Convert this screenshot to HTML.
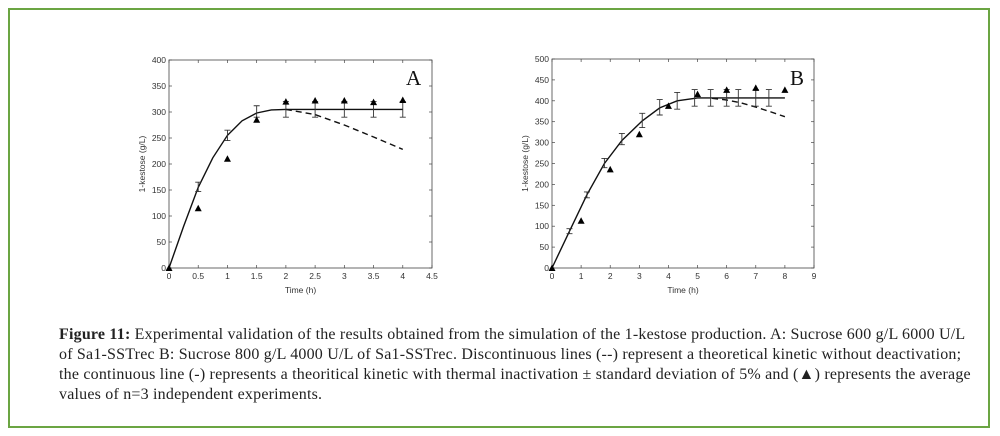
<!DOCTYPE html>
<html><head><meta charset="utf-8"><style>
body{margin:0;width:1000px;height:436px;background:#fff;overflow:hidden;position:relative}
#frame{position:absolute;left:8px;top:8px;width:982px;height:420px;border:2px solid #6ba543;box-sizing:border-box}
#cap{position:absolute;left:59px;top:325px;font-family:"Liberation Serif",serif;font-size:16px;line-height:20px;color:#222;white-space:nowrap;letter-spacing:0.2px}
svg text{font-family:"Liberation Sans",sans-serif;font-size:8.5px;fill:#333}
</style></head><body>
<div id="frame"></div>
<svg id="s" width="1000" height="436" style="position:absolute;left:0;top:0"></svg>
<div id="cap"><b>Figure 11:</b> Experimental validation of the results obtained from the simulation of the 1-kestose production. A: Sucrose 600 g/L 6000 U/L<br>of Sa1-SSTrec B: Sucrose 800 g/L 4000 U/L of Sa1-SSTrec. Discontinuous lines (--) represent a theoretical kinetic without deactivation;<br>the continuous line (-) represents a theoritical kinetic with thermal inactivation ± standard deviation of 5% and (▲) represents the average<br>values of n=3 independent experiments.</div>
<script>
var h='';
function chart(o){
 var X=function(t){return o.x0+(o.x1-o.x0)*t/o.xm},Y=function(v){return o.y0-(o.y0-o.y1)*v/o.ym};
 h+='<rect x="'+o.x0+'" y="'+o.y1+'" width="'+(o.x1-o.x0)+'" height="'+(o.y0-o.y1)+'" fill="none" stroke="#444" stroke-width="0.8"/>';
 for(var t=0;t<=o.xm+1e-9;t+=o.xs){var x=X(t);h+='<line x1="'+x+'" x2="'+x+'" y1="'+o.y0+'" y2="'+(o.y0-3)+'" stroke="#444" stroke-width=".7"/><line x1="'+x+'" x2="'+x+'" y1="'+o.y1+'" y2="'+(o.y1+3)+'" stroke="#444" stroke-width=".7"/><text x="'+x+'" y="'+(o.y0+11)+'" text-anchor="middle">'+(Math.round(t*10)/10)+'</text>';}
 for(var v=0;v<=o.ym;v+=50){var y=Y(v);h+='<line x1="'+o.x0+'" x2="'+(o.x0+3)+'" y1="'+y+'" y2="'+y+'" stroke="#444" stroke-width=".7"/><line x1="'+o.x1+'" x2="'+(o.x1-3)+'" y1="'+y+'" y2="'+y+'" stroke="#444" stroke-width=".7"/><text x="'+(o.x0-3)+'" y="'+(y+3)+'" text-anchor="end">'+v+'</text>';}
 h+='<text x="'+((o.x0+o.x1)/2)+'" y="'+(o.y0+25)+'" text-anchor="middle">Time (h)</text>';
 var cy=(o.y0+o.y1)/2;h+='<text transform="translate('+(o.x0-24)+','+cy+') rotate(-90)" text-anchor="middle">1-kestose (g/L)</text>';
 h+='<text x="'+o.lx+'" y="'+o.ly+'" style="font-family:Liberation Serif,serif;font-size:21px;fill:#111">'+o.lab+'</text>';
 var p=function(a){return a.map(function(q){return X(q[0]).toFixed(1)+','+Y(q[1]).toFixed(1)}).join(' ')};
 h+='<polyline points="'+p(o.solid)+'" fill="none" stroke="#111" stroke-width="1.4"/>';
 h+='<polyline points="'+p(o.dash)+'" fill="none" stroke="#111" stroke-width="1.4" stroke-dasharray="6,4"/>';
 o.err.forEach(function(e){var x=X(e[0]),a=Y(e[1]),b=Y(e[2]);h+='<path d="M'+x+' '+a+'V'+b+'M'+(x-3)+' '+a+'h6M'+(x-3)+' '+b+'h6" stroke="#333" stroke-width=".9" fill="none"/>';});
 o.tri.forEach(function(e){var x=X(e[0]),y=Y(e[1]);h+='<polygon points="'+(x-3.5)+','+(y+3)+' '+(x+3.5)+','+(y+3)+' '+x+','+(y-3.5)+'" fill="#000"/>';});
}
chart({x0:169,x1:432,y0:268,y1:60,xm:4.5,ym:400,xs:0.5,lab:'A',lx:406,ly:85,
 solid:[[0,0],[0.25,80],[0.5,155],[0.75,212],[1,255],[1.25,283],[1.5,298],[1.75,304],[2,305],[4,305]],
 dash:[[2,305],[2.5,295],[3,275],[3.5,252],[4,228]],
 err:[[0.5,147,165],[1,245,265],[1.5,290,312],[2,290,320],[2.5,290,320],[3,290,320],[3.5,290,320],[4,290,320]],
 tri:[[0,0],[0.5,115],[1,210],[1.5,285],[2,320],[2.5,322],[3,322],[3.5,319],[4,323]]});
chart({x0:552,x1:814,y0:268,y1:59,xm:9,ym:500,xs:1,lab:'B',lx:790,ly:85,
 solid:[[0,0],[0.6,88],[1.2,175],[1.8,250],[2.4,305],[3.1,352],[3.7,383],[4.3,400],[5,407],[8,407]],
 dash:[[5.5,406],[6,402],[6.5,395],[7,385],[7.5,374],[8,362]],
 err:[[0.6,82,94],[1.2,168,182],[1.8,240,262],[2.4,295,322],[3.1,336,370],[3.7,366,403],[4.3,380,420],[4.9,387,427],[5.45,387,427],[6,387,427],[6.4,387,427],[7,387,427],[7.45,387,427]],
 tri:[[0,0],[1,113],[2,236],[3,320],[4,388],[5,416],[6,426],[7,431],[8,426]]});
document.getElementById('s').innerHTML=h;
</script>
</body></html>
